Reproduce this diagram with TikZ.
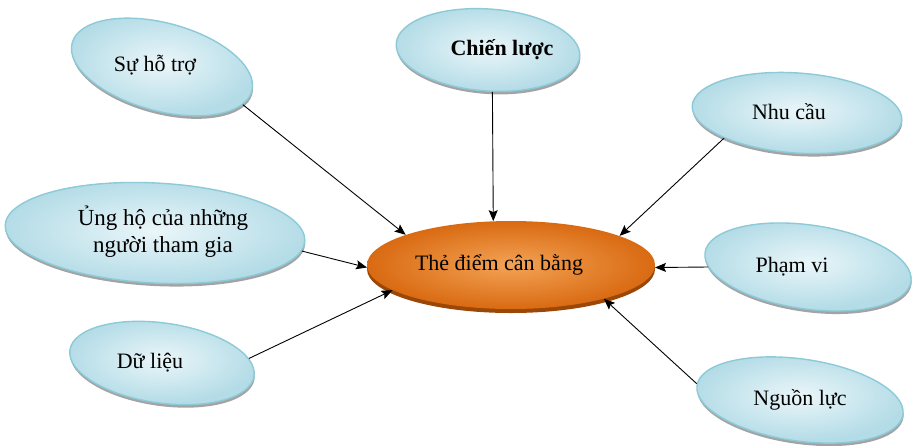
\documentclass[tikz,border=0pt]{standalone}
\usepackage{fontspec}
\setmainfont{Liberation Serif}
\usepackage{graphicx}
\usetikzlibrary{shapes.geometric,shadows,arrows.meta}

\definecolor{bubedge}{HTML}{8CCAD8}
\definecolor{bubin}{HTML}{EAF6F9}
\definecolor{bubout}{HTML}{B4DCE7}
\definecolor{hubin}{HTML}{F3A356}
\definecolor{hubout}{HTML}{D96A12}
\definecolor{hubshadow}{HTML}{9A4707}

% offset a label inside its node: #1 right, #2 up
\newcommand\offsetlabel[3]{\raisebox{#2}{\kern#1\relax#3\kern-#1\relax}}

\tikzset{
  bubble/.style={ellipse, draw=bubedge, line width=1.4pt,
    inner color=bubin, outer color=bubout, inner sep=0pt,
    drop shadow={shadow xshift=0.5pt, shadow yshift=-3pt, fill=black!40, opacity=0.9},
    font=\fontsize{22}{26}\selectfont, align=center},
  hub/.style={ellipse, draw=none, inner color=hubin, outer color=hubout, inner sep=0pt,
    drop shadow={shadow xshift=0pt, shadow yshift=-4pt, fill=hubshadow, opacity=1},
    font=\fontsize{22}{26}\selectfont},
  link/.style={line width=0.9pt, -{Stealth[length=11pt,width=9pt,inset=2pt]}}
}

\begin{document}
\begin{tikzpicture}[x=1pt,y=-1pt]
\useasboundingbox (0,0) rectangle (916,445);

% surrounding topics
\node[bubble, minimum width=186pt, minimum height=88pt, rotate=-15] (ho) at (162,67)
  {\rotatebox{15}{\offsetlabel{-7pt}{7pt}{Sự hỗ trợ}}};
\node[bubble, minimum width=184pt, minimum height=82pt, rotate=-4] (cl) at (488,50)
  {\rotatebox{4}{\offsetlabel{14pt}{3pt}{\textbf{Chiến lược}}}};
\node[bubble, minimum width=210pt, minimum height=80pt, rotate=-4] (nc) at (797,113)
  {\rotatebox{4}{\offsetlabel{-8pt}{3pt}{Nhu cầu}}};
\node[bubble, minimum width=300pt, minimum height=100pt, rotate=-3] (uh) at (155,233)
  {\rotatebox{3}{\offsetlabel{8pt}{0pt}{\fontsize{23}{26}\selectfont\begin{tabular}{@{}c@{}}Ủng hộ của những\\[1pt] người tham gia\end{tabular}}}};
\node[bubble, minimum width=208pt, minimum height=84pt, rotate=-8] (pv) at (808,267)
  {\rotatebox{8}{\offsetlabel{-16pt}{0pt}{Phạm vi}}};
\node[bubble, minimum width=186pt, minimum height=80pt, rotate=-8] (dl) at (162,363)
  {\rotatebox{8}{\offsetlabel{-12pt}{0pt}{Dữ liệu}}};
\node[bubble, minimum width=208pt, minimum height=82pt, rotate=-8] (nl) at (800,400)
  {\rotatebox{8}{\offsetlabel{0pt}{3pt}{Nguồn lực}}};

% central topic
\node[hub, minimum width=288pt, minimum height=88pt] (c) at (511,265)
  {\offsetlabel{-12pt}{0pt}{Thẻ điểm cân bằng}};

% connectors into the centre
\draw[link] (ho.-10.7) -- (c.164.8);
\draw[link] (cl.-80.6) -- (c.112.9);
\draw[link] (nc.203.2) -- (c.15.5);
\draw[link] (uh.-4.2)  -- (c.181.6);
\draw[link] (pv.188.5) -- (c.-1.3);
\draw[link] (dl.11.1)  -- (c.192.8);
\draw[link] (nl.179)   -- (c.-20.6);
\end{tikzpicture}
\end{document}
